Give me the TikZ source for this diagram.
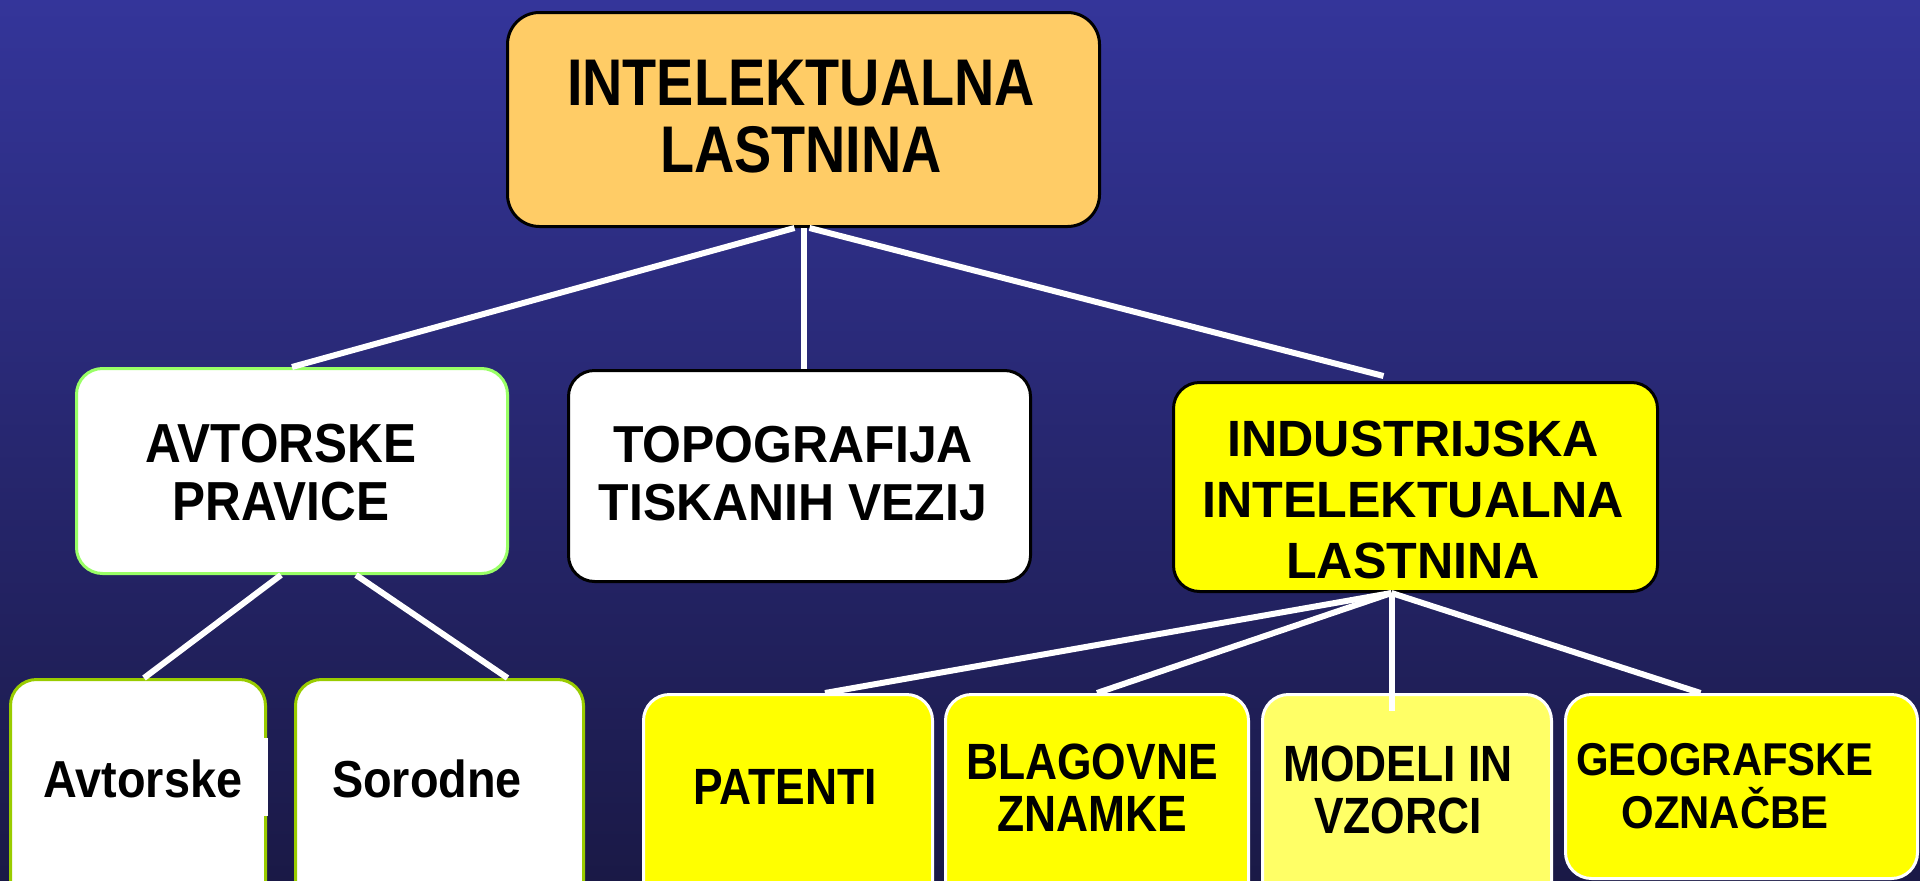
\documentclass[tikz,border=0pt]{standalone}
\usepackage{fontspec}
\setmainfont{Liberation Sans}
\newfontfamily\fTop[FakeStretch=0.845]{Liberation Sans}
\newfontfamily\fAvt[FakeStretch=0.9]{Liberation Sans}
\newfontfamily\fTopo[FakeStretch=0.96]{Liberation Sans}
\newfontfamily\fInd[FakeStretch=0.985]{Liberation Sans}
\newfontfamily\fLow[FakeStretch=0.9]{Liberation Sans}
\newfontfamily\fYel[FakeStretch=0.87]{Liberation Sans}
\newfontfamily\fGeo[FakeStretch=0.91]{Liberation Sans}
\usetikzlibrary{calc}
\definecolor{bgtop}{RGB}{52,53,154}
\definecolor{bgbot}{RGB}{26,25,70}
\definecolor{orangefill}{RGB}{255,204,102}
\definecolor{lightgreen}{RGB}{153,255,102}
\definecolor{darkgreen}{RGB}{153,204,0}
\definecolor{yel}{RGB}{255,255,0}
\definecolor{paleyel}{RGB}{255,255,102}
\begin{document}
\begin{tikzpicture}[x=1pt,y=-1pt,
  box/.style={rounded corners=26pt, line width=3pt, inner sep=0pt, anchor=north west},
  conn/.style={draw=white, line width=6pt},
  lbl/.style={align=center, inner sep=0pt, text=black, font=\bfseries}]
\useasboundingbox (0,0) rectangle (1920,881);
\clip (0,0) rectangle (1920,881);
\shade[top color=bgtop, bottom color=bgbot] (0,0) rectangle (1920,881);

% boxes
\node[box, draw=black, fill=orangefill, rounded corners=32pt, minimum width=592pt, minimum height=214pt] (top) at (506,11) {};
\node[box, draw=lightgreen, fill=white, minimum width=431pt, minimum height=205pt] (avt) at (75,367) {};
\node[box, draw=black, fill=white, minimum width=462pt, minimum height=211pt] (topo) at (567,369) {};
\node[box, draw=black, fill=yel, minimum width=484pt, minimum height=209pt] (ind) at (1172,381) {};
\node[box, draw=darkgreen, fill=white, minimum width=255pt, minimum height=240pt] (avtb) at (9,678) {};
\node[box, draw=darkgreen, fill=white, minimum width=288pt, minimum height=240pt] (sor) at (294,678) {};
\node[box, draw=white, fill=yel, minimum width=289pt, minimum height=240pt] (pat) at (642,693) {};
\node[box, draw=white, fill=yel, minimum width=303pt, minimum height=240pt] (bla) at (944,693) {};
\node[box, draw=white, fill=paleyel, minimum width=289pt, minimum height=240pt] (mod) at (1261,693) {};
\node[box, draw=white, fill=yel, minimum width=352pt, minimum height=184pt] (geo) at (1564,693) {};
\fill[white] (258,738) rectangle (268,816);

% connectors
\draw[conn] ($(top.south)+(-9,0)$) -- (avt.north);
\draw[conn] (top.south) -- (top.south |- topo.north);
\draw[conn] ($(top.south)+(6,0)$) -- ($(ind.north)+(-32,-5)$);
\draw[conn] ($(avt.south)+(-11,0)$) -- ($(avtb.north)+(6,0)$);
\draw[conn] ($(avt.south)+(64,0)$) -- ($(sor.north)+(68,0)$);
\coordinate (fan) at ($(ind.south)+(-24,0)$);
\draw[conn] (fan) -- ($(pat.north)+(37,0)$);
\draw[conn] (fan) -- (bla.north);
\draw[conn] (fan) -- ($(fan |- mod.north)+(0,18)$);
\draw[conn] (fan) -- ($(geo.north)+(-41,0)$);

% labels
\node[lbl, font=\fTop\bfseries\fontsize{66}{67}\selectfont] (topt) at (801,117) {INTELEKTUALNA\\LASTNINA};
\node[lbl, font=\fAvt\bfseries\fontsize{55}{58}\selectfont] (avtt) at (281,473) {AVTORSKE\\PRAVICE};
\node[lbl, font=\fTopo\bfseries\fontsize{52}{58}\selectfont] (topot) at (793,474) {TOPOGRAFIJA\\TISKANIH VEZIJ};
\node[lbl, font=\fInd\bfseries\fontsize{51}{61}\selectfont] (indt) at (1413,500) {INDUSTRIJSKA\\INTELEKTUALNA\\LASTNINA};
\node[lbl, font=\fLow\bfseries\fontsize{52}{52}\selectfont] (avtbt) at (143,779) {Avtorske};
\node[lbl, font=\fLow\bfseries\fontsize{52}{52}\selectfont] (sort) at (427,779) {Sorodne};
\node[lbl, font=\fYel\bfseries\fontsize{51}{52}\selectfont] (patt) at (785,787) {PATENTI};
\node[lbl, font=\fYel\bfseries\fontsize{51}{52}\selectfont] (blat) at (1092,788) {BLAGOVNE\\ZNAMKE};
\node[lbl, font=\fYel\bfseries\fontsize{51}{52}\selectfont] (modt) at (1398,790) {MODELI IN\\VZORCI};
\node[lbl, font=\fGeo\bfseries\fontsize{46}{53}\selectfont] (geot) at (1725,786) {GEOGRAFSKE\\OZNAČBE};
\end{tikzpicture}
\end{document}
